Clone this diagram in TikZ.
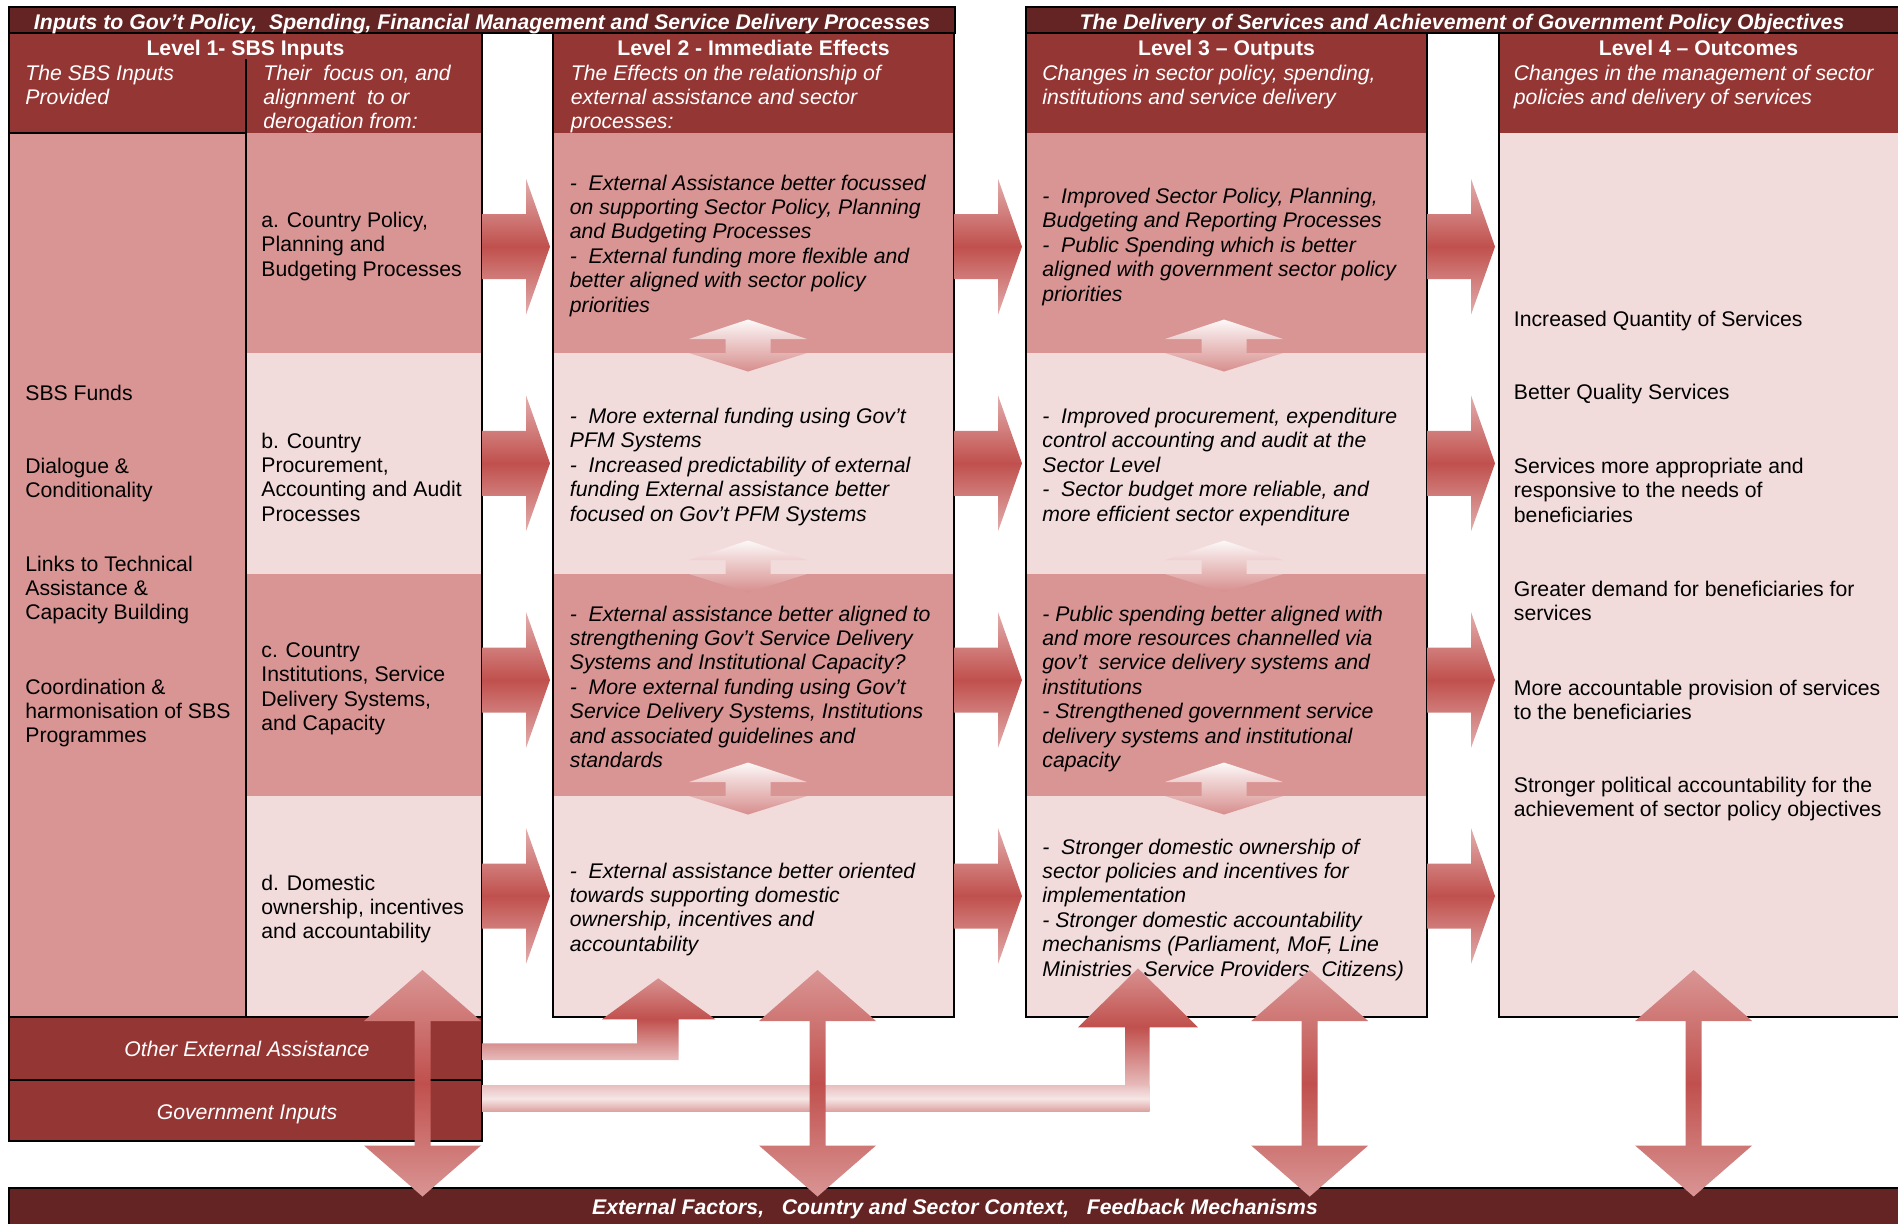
\documentclass[tikz,border=0pt]{standalone}
\usepackage{fontspec}
\setmainfont{Liberation Sans}
\newcommand{\bodysize}{\fontsize{10.6}{12.2}\selectfont}
\definecolor{bannerred}{HTML}{632423}
\definecolor{headred}{HTML}{943634}
\definecolor{midpink}{HTML}{D99594}
\definecolor{lightpink}{HTML}{F2DBDB}
\definecolor{arrowred}{HTML}{C0504D}
\definecolor{arrowpale}{HTML}{E2AEAD}
\tikzset{
	banner/.style={fill=bannerred, draw=black, line width=1.2pt},
	headcell/.style={fill=headred},
	midcell/.style={fill=midpink},
	lightcell/.style={fill=lightpink},
	frame/.style={draw=black, line width=1.2pt},
	bannertext/.style={text=white, font=\bodysize\bfseries\itshape, anchor=base, inner sep=0pt},
	leveltitle/.style={text=white, font=\bodysize\bfseries, anchor=base, inner sep=0pt},
	% multi-line texts sit on the baseline of their last line
	subtitle/.style={text=white, font=\bodysize\itshape, anchor=base west, align=left, inner sep=0pt},
	inputlabel/.style={text=white, font=\bodysize\itshape, anchor=base, inner sep=0pt},
	plaintext/.style={font=\bodysize, anchor=base west, align=left, inner sep=0pt},
	itemtext/.style={font=\bodysize\itshape, anchor=base west, align=left, inner sep=0pt},
	flowarrow/.style={top color=arrowpale, bottom color=arrowpale, middle color=arrowred},
	rowshade/.style={top color=white!80!lightpink, bottom color=midpink!90!arrowred},
	contextshade/.style={top color=midpink, bottom color=midpink, middle color=arrowred},
	elbowshade/.style={top color=midpink!95!arrowred, bottom color=arrowpale!70!lightpink, middle color=arrowred},
	govbandshade/.style={top color=arrowpale!60!lightpink, bottom color=midpink!85!lightpink, middle color=lightpink!70!white},
}
% horizontal arrow between two levels: #1 = right edge of box, #2 = centre height
\newcommand{\sidearrow}[2]{\shade[flowarrow] (#1,#2-32.5) -- (#1+44,#2-32.5) -- (#1+44,#2-68) -- (#1+68,#2) -- (#1+44,#2+68) -- (#1+44,#2+32.5) -- (#1,#2+32.5) -- cycle;}
% small double arrow across a row border: #1 = x centre, #2 = border
\newcommand{\rowarrow}[2]{\shade[rowshade] (#1,#2-33.5) -- (#1+59,#2-14) -- (#1+22.5,#2-14) -- (#1+22.5,#2) -- (#1+59,#2) -- (#1,#2+18.5) -- (#1-59,#2) -- (#1-22.5,#2) -- (#1-22.5,#2-14) -- (#1-59,#2-14) -- cycle;}
% double arrow down to the context bar: #1 = x centre
\newcommand{\contextarrow}[1]{\shade[contextshade] (#1,970) -- (#1+58.5,1021) -- (#1+8,1021) -- (#1+8,1145.5) -- (#1+58.5,1145.5) -- (#1,1196.5) -- (#1-58.5,1145.5) -- (#1-8,1145.5) -- (#1-8,1021) -- (#1-58.5,1021) -- cycle;}
\begin{document}
\begin{tikzpicture}
			[x=0.5pt, y=-0.5pt]
	\useasboundingbox (0,0) rectangle (1898,1223);
	\draw[banner] (9,7) rectangle (955,33);
	\draw[banner] (1026,7) rectangle (1910,33);
	\draw[banner] (9,1188) rectangle (1910,1235);
	% level 1
	\fill[headcell] (9,33) rectangle (482,133);
	\fill[midcell] (9,133) rectangle (246,1017);
	\fill[midcell] (246,133) rectangle (482,353);
	\fill[lightcell] (246,353) rectangle (482,574);
	\fill[midcell] (246,574) rectangle (482,796);
	\fill[lightcell] (246,796) rectangle (482,1017);
	\fill[headcell] (9,1017) rectangle (482,1141);
	\draw[frame] (9,33) rectangle (482,1141);
	\draw[frame] (9,133) -- (246,133) (246,59) -- (246,1017) (9,1017) -- (482,1017) (9,1080) -- (482,1080);
	% level 2
	\fill[headcell] (553,33) rectangle (954,133);
	\fill[midcell] (553,133) rectangle (954,353);
	\fill[lightcell] (553,353) rectangle (954,574);
	\fill[midcell] (553,574) rectangle (954,796);
	\fill[lightcell] (553,796) rectangle (954,1017);
	\draw[frame] (553,33) rectangle (954,1017);
	% level 3
	\fill[headcell] (1026,33) rectangle (1427,133);
	\fill[midcell] (1026,133) rectangle (1427,353);
	\fill[lightcell] (1026,353) rectangle (1427,574);
	\fill[midcell] (1026,574) rectangle (1427,796);
	\fill[lightcell] (1026,796) rectangle (1427,1017);
	\draw[frame] (1026,33) rectangle (1427,1017);
	% level 4
	\fill[headcell] (1499,33) rectangle (1910,133);
	\fill[lightcell] (1499,133) rectangle (1910,1017);
	\draw[frame] (1499,33) rectangle (1910,1017);

	\node[bannertext] (inputsbar) at (482,29) {Inputs to Gov’t Policy,~ Spending, Financial Management and Service Delivery Processes};
	\node[bannertext] (deliverybar) at (1462,29) {The Delivery of Services and Achievement of Government Policy Objectives};
	\node[leveltitle] (lvlone) at (245.5,55.5) {Level 1- SBS Inputs};
	\node[leveltitle] (lvltwo) at (753.5,55.5) {Level 2 - Immediate Effects};
	\node[leveltitle] (lvlthree) at (1226.5,55.5) {Level 3 – Outputs};
	\node[leveltitle] (lvlfour) at (1698.5,55.5) {Level 4 – Outcomes};
	\node[subtitle] (provided) at (25,104.4) {The SBS Inputs\\Provided};
	\node[subtitle] (focus) at (263,128.8) {Their~ focus on, and\\alignment~ to or\\derogation from:};
	\node[subtitle] (relation) at (570.5,128.8) {The Effects on the relationship of\\external assistance and sector\\processes:};
	\node[subtitle] (changes) at (1042,104.4) {Changes in sector policy, spending,\\institutions and service delivery};
	\node[subtitle] (managing) at (1513.5,104.4) {Changes in the management of sector\\policies and delivery of services};

	\node[plaintext] (funds) at (25,400.5) {SBS Funds};
	\node[plaintext] (dialogue) at (25,497.9) {Dialogue \&\\Conditionality};
	\node[plaintext] (links) at (25,619.8) {Links to Technical\\Assistance \&\\Capacity Building};
	\node[plaintext] (coord) at (25,742.8) {Coordination \&\\harmonisation of SBS\\Programmes};

	\node[plaintext] (policy) at (261,276.3) {a. Country Policy,\\Planning and\\Budgeting Processes};
	\node[plaintext] (procure) at (261,521.2) {b. Country\\Procurement,\\Accounting and Audit\\Processes};
	\node[plaintext] (institut) at (261,730.7) {c. Country\\Institutions, Service\\Delivery Systems,\\and Capacity};
	\node[plaintext] (domestic) at (261,938.8) {d. Domestic\\ownership, incentives\\and accountability};

	\node[itemtext] (effa) at (569.5,312) {-~~External Assistance better focussed\\on supporting Sector Policy, Planning\\and Budgeting Processes\\-~~External funding more flexible and\\better aligned with sector policy\\priorities};
	\node[itemtext] (effb) at (569.5,521.1) {-~~More external funding using Gov’t\\PFM Systems\\-~~Increased predictability of external\\funding External assistance better\\focused on Gov’t PFM Systems};
	\node[itemtext] (effc) at (569.5,767.4) {-~~External assistance better aligned to\\strengthening Gov’t Service Delivery\\Systems and Institutional Capacity?\\-~~More external funding using Gov’t\\Service Delivery Systems, Institutions\\and associated guidelines and\\standards};
	\node[itemtext] (effd) at (569.5,951.2) {-~~External assistance better oriented\\towards supporting domestic\\ownership, incentives and\\accountability};

	\node[itemtext] (outa) at (1042,301.1) {-~~Improved Sector Policy, Planning,\\Budgeting and Reporting Processes\\-~~Public Spending which is better\\aligned with government sector policy\\priorities};
	\node[itemtext] (outb) at (1042,521.1) {-~~Improved procurement, expenditure\\control accounting and audit at the\\Sector Level\\-~~Sector budget more reliable, and\\more efficient sector expenditure};
	\node[itemtext] (outc) at (1042,767.4) {- Public spending better aligned with\\and more resources channelled via\\gov’t~ service delivery systems and\\institutions\\- Strengthened government service\\delivery systems and institutional\\capacity};
	\node[itemtext] (outd) at (1042,976) {-~~Stronger domestic ownership of\\sector policies and incentives for\\implementation\\- Stronger domestic accountability\\mechanisms (Parliament, MoF, Line\\Ministries, Service Providers, Citizens)};

	\node[plaintext] (quantity) at (1513.5,326.5) {Increased Quantity of Services};
	\node[plaintext] (quality) at (1513.5,399) {Better Quality Services};
	\node[plaintext] (responsive) at (1513.5,522.3) {Services more appropriate and\\responsive to the needs of\\beneficiaries};
	\node[plaintext] (demand) at (1513.5,620.4) {Greater demand for beneficiaries for\\services};
	\node[plaintext] (provision) at (1513.5,719.4) {More accountable provision of services\\to the beneficiaries};
	\node[plaintext] (political) at (1513.5,816.4) {Stronger political accountability for the\\achievement of sector policy objectives};

	\node[inputlabel] (otherea) at (247,1056) {Other External Assistance};
	\node[inputlabel] (govinputs) at (247,1119) {Government Inputs};
	\node[bannertext] (context) at (955,1214) {External Factors,~~~Country and Sector Context,~~~Feedback Mechanisms};

	\sidearrow{482}{246.7} \sidearrow{482}{463.3} \sidearrow{482}{680} \sidearrow{482}{896}
	\sidearrow{954}{246.7} \sidearrow{954}{463.3} \sidearrow{954}{680} \sidearrow{954}{896}
	\sidearrow{1427}{246.7} \sidearrow{1427}{463.3} \sidearrow{1427}{680} \sidearrow{1427}{896}
	\rowarrow{748}{353} \rowarrow{748}{574} \rowarrow{748}{796}
	\rowarrow{1224}{353} \rowarrow{1224}{574} \rowarrow{1224}{796}

	\shade[elbowshade] (482,1043.3) -- (637,1043.3) -- (637,1019.3) -- (602,1019.3) -- (658.3,978.3) -- (715.3,1019.3) -- (678.5,1019.3) -- (678.5,1060) -- (482,1060) -- cycle;
	\shade[govbandshade] (482,1085.5) rectangle (1149.5,1111.7);
	\shade[elbowshade] (1125,1085.5) -- (1125,1027.3) -- (1078,1027.3) -- (1138,968.3) -- (1198,1027.3) -- (1149.5,1027.3) -- (1149.5,1085.5) -- cycle;
	\contextarrow{422.5} \contextarrow{817.5} \contextarrow{1309.7} \contextarrow{1693.6}
\end{tikzpicture}
\end{document}
